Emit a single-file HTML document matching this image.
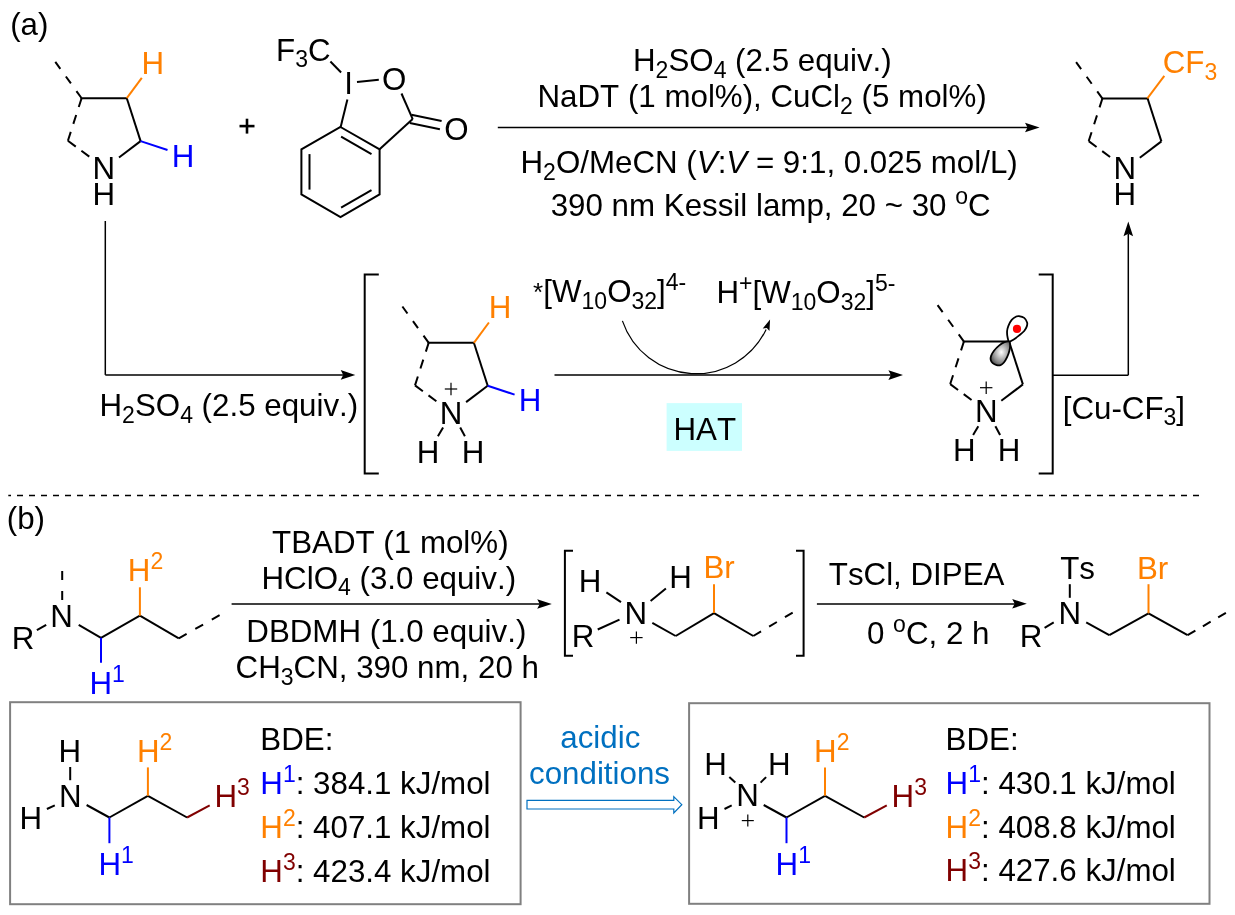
<!DOCTYPE html>
<html><head><meta charset="utf-8"><style>
html,body{margin:0;padding:0;background:#fff;overflow:hidden;}
svg{display:block;will-change:transform;}
text{font-family:"Liberation Sans",sans-serif;font-kerning:none;}
</style></head><body>
<svg width="1235" height="915" viewBox="0 0 1235 915">
<rect width="1235" height="915" fill="#fff"/>
<text x="10.20" y="35.00" text-anchor="start" fill="#000" font-size="31.3" ><tspan>(a)</tspan></text>
<line x1="55.30" y1="61.90" x2="81.60" y2="98.20" stroke="#000" stroke-width="2.0" stroke-dasharray="8.6 9.4" stroke-dashoffset="0"/>
<line x1="81.60" y1="98.20" x2="67.90" y2="140.80" stroke="#000" stroke-width="2.0" stroke-dasharray="9.3 8.4" stroke-dashoffset="0"/>
<line x1="67.90" y1="140.80" x2="89.50" y2="156.80" stroke="#000" stroke-width="2.0" stroke-dasharray="9.8 7.0" stroke-dashoffset="0"/>
<line x1="81.60" y1="98.20" x2="126.80" y2="98.20" stroke="#000" stroke-width="2.0" stroke-linecap="square"/>
<line x1="126.80" y1="98.20" x2="140.60" y2="141.10" stroke="#000" stroke-width="2.0" />
<line x1="140.60" y1="141.10" x2="119.00" y2="157.50" stroke="#000" stroke-width="2.0" />
<text x="103.90" y="179.00" text-anchor="middle" fill="#000" font-size="31.3" ><tspan>N</tspan></text>
<text x="103.90" y="205.00" text-anchor="middle" fill="#000" font-size="31.3" ><tspan>H</tspan></text>
<line x1="126.80" y1="98.20" x2="141.80" y2="77.90" stroke="#FF8000" stroke-width="2.0" />
<text x="152.85" y="73.80" text-anchor="middle" fill="#FF8000" font-size="31.3" ><tspan>H</tspan></text>
<line x1="140.60" y1="141.10" x2="167.50" y2="150.00" stroke="#0000FF" stroke-width="2.0" />
<text x="183.00" y="166.50" text-anchor="middle" fill="#0000FF" font-size="31.3" ><tspan>H</tspan></text>
<line x1="239.50" y1="126.10" x2="254.50" y2="126.10" stroke="#000" stroke-width="2.6" />
<line x1="247.00" y1="118.70" x2="247.00" y2="133.60" stroke="#000" stroke-width="2.6" />
<text x="276.00" y="60.50" text-anchor="start" fill="#000" font-size="31.3" ><tspan>F</tspan><tspan font-size="23.0" dy="6.70">3</tspan><tspan dy="-6.70">C</tspan></text>
<line x1="330.40" y1="61.50" x2="341.10" y2="72.50" stroke="#000" stroke-width="2.0" />
<text x="348.70" y="94.00" text-anchor="middle" fill="#000" font-size="31.3" ><tspan>I</tspan></text>
<line x1="357.00" y1="81.90" x2="378.80" y2="79.80" stroke="#000" stroke-width="2.0" />
<text x="394.10" y="89.60" text-anchor="middle" fill="#000" font-size="31.3" ><tspan>O</tspan></text>
<line x1="401.50" y1="93.50" x2="412.70" y2="119.10" stroke="#000" stroke-width="2.0" />
<line x1="411.40" y1="114.80" x2="441.60" y2="121.10" stroke="#000" stroke-width="2.0" />
<line x1="409.80" y1="123.00" x2="439.90" y2="129.30" stroke="#000" stroke-width="2.0" />
<text x="456.45" y="139.50" text-anchor="middle" fill="#000" font-size="31.3" ><tspan>O</tspan></text>
<line x1="347.40" y1="99.40" x2="340.60" y2="127.30" stroke="#000" stroke-width="2.0" />
<polygon points="340.5,127 379.6,149.3 379.6,194.4 340.5,217.2 301.4,194.4 301.4,149.3" fill="none" stroke="#000" stroke-width="2" stroke-linejoin="miter"/>
<line x1="341.10" y1="136.60" x2="371.50" y2="154.10" stroke="#000" stroke-width="2.0" />
<line x1="309.50" y1="154.10" x2="309.50" y2="189.60" stroke="#000" stroke-width="2.0" />
<line x1="341.10" y1="207.60" x2="371.50" y2="190.20" stroke="#000" stroke-width="2.0" />
<line x1="379.60" y1="149.30" x2="412.70" y2="119.10" stroke="#000" stroke-width="2.0" />
<line x1="497.80" y1="127.50" x2="1028.00" y2="127.50" stroke="#000" stroke-width="1.5" />
<polygon points="1039.60,127.50 1025.00,132.30 1027.50,127.50 1025.00,122.70" fill="#000"/>
<text x="633.00" y="70.90" text-anchor="start" fill="#000" font-size="31.3" ><tspan>H</tspan><tspan font-size="23.0" dy="6.70">2</tspan><tspan dy="-6.70">SO</tspan><tspan font-size="23.0" dy="6.70">4</tspan><tspan dy="-6.70"> (2.5 equiv.)</tspan></text>
<text x="537.50" y="106.80" text-anchor="start" fill="#000" font-size="31.3" ><tspan>NaDT (1 mol%), CuCl</tspan><tspan font-size="23.0" dy="6.70">2</tspan><tspan dy="-6.70"> (5 mol%)</tspan></text>
<text x="520.50" y="173.10" text-anchor="start" fill="#000" font-size="31.3" ><tspan>H</tspan><tspan font-size="23.0" dy="6.70">2</tspan><tspan dy="-6.70">O/MeCN (</tspan><tspan font-style="italic">V</tspan><tspan>:</tspan><tspan font-style="italic">V</tspan><tspan> = 9:1, 0.025 mol/L)</tspan></text>
<text x="550.70" y="216.00" text-anchor="start" fill="#000" font-size="31.3" ><tspan>390 nm Kessil lamp, 20 ~ 30 </tspan><tspan font-size="23.0" dy="-12.00">o</tspan><tspan dy="12.00">C</tspan></text>
<line x1="1076.10" y1="62.20" x2="1102.40" y2="98.50" stroke="#000" stroke-width="2.0" stroke-dasharray="8.6 9.4" stroke-dashoffset="0"/>
<line x1="1102.40" y1="98.50" x2="1088.70" y2="141.10" stroke="#000" stroke-width="2.0" stroke-dasharray="9.3 8.4" stroke-dashoffset="0"/>
<line x1="1088.70" y1="141.10" x2="1110.30" y2="157.10" stroke="#000" stroke-width="2.0" stroke-dasharray="9.8 7.0" stroke-dashoffset="0"/>
<line x1="1102.40" y1="98.50" x2="1147.60" y2="98.50" stroke="#000" stroke-width="2.0" stroke-linecap="square"/>
<line x1="1147.60" y1="98.50" x2="1161.40" y2="141.40" stroke="#000" stroke-width="2.0" />
<line x1="1161.40" y1="141.40" x2="1139.80" y2="157.80" stroke="#000" stroke-width="2.0" />
<text x="1124.70" y="179.30" text-anchor="middle" fill="#000" font-size="31.3" ><tspan>N</tspan></text>
<text x="1124.70" y="205.30" text-anchor="middle" fill="#000" font-size="31.3" ><tspan>H</tspan></text>
<line x1="1147.40" y1="98.40" x2="1164.30" y2="75.90" stroke="#FF8000" stroke-width="2.0" />
<text x="1162.70" y="73.30" text-anchor="start" fill="#FF8000" font-size="31.3" ><tspan>CF</tspan><tspan font-size="23.0" dy="6.70">3</tspan></text>
<line x1="1128.30" y1="375.20" x2="1128.30" y2="234.00" stroke="#000" stroke-width="1.5" />
<polygon points="1128.30,221.60 1133.10,236.20 1128.30,233.70 1123.50,236.20" fill="#000"/>
<line x1="1052.70" y1="375.20" x2="1128.30" y2="375.20" stroke="#000" stroke-width="1.5" />
<line x1="105.30" y1="221.00" x2="105.30" y2="374.90" stroke="#000" stroke-width="1.5" />
<line x1="105.30" y1="374.90" x2="343.00" y2="374.90" stroke="#000" stroke-width="1.5" />
<polygon points="355.30,374.90 340.70,379.70 343.20,374.90 340.70,370.10" fill="#000"/>
<text x="99.50" y="416.20" text-anchor="start" fill="#000" font-size="31.3" ><tspan>H</tspan><tspan font-size="23.0" dy="6.70">2</tspan><tspan dy="-6.70">SO</tspan><tspan font-size="23.0" dy="6.70">4</tspan><tspan dy="-6.70"> (2.5 equiv.)</tspan></text>
<path d="M378.8,274.6 H364.7 V473.6 H378.8" fill="none" stroke="#000" stroke-width="2"/>
<path d="M1038.7,274.6 H1052.7 V473.6 H1038.7" fill="none" stroke="#000" stroke-width="2"/>
<line x1="402.40" y1="306.50" x2="428.70" y2="342.80" stroke="#000" stroke-width="2.0" stroke-dasharray="8.6 9.4" stroke-dashoffset="0"/>
<line x1="428.70" y1="342.80" x2="415.00" y2="385.40" stroke="#000" stroke-width="2.0" stroke-dasharray="9.3 8.4" stroke-dashoffset="0"/>
<line x1="415.00" y1="385.40" x2="436.60" y2="401.40" stroke="#000" stroke-width="2.0" stroke-dasharray="9.8 7.0" stroke-dashoffset="0"/>
<line x1="428.70" y1="342.80" x2="473.90" y2="342.80" stroke="#000" stroke-width="2.0" stroke-linecap="square"/>
<line x1="473.90" y1="342.80" x2="487.70" y2="385.70" stroke="#000" stroke-width="2.0" />
<line x1="487.70" y1="385.70" x2="466.10" y2="402.10" stroke="#000" stroke-width="2.0" />
<text x="451.00" y="423.60" text-anchor="middle" fill="#000" font-size="31.3" ><tspan>N</tspan></text>
<line x1="473.90" y1="342.80" x2="488.90" y2="322.50" stroke="#FF8000" stroke-width="2.0" />
<text x="499.95" y="318.40" text-anchor="middle" fill="#FF8000" font-size="31.3" ><tspan>H</tspan></text>
<line x1="487.70" y1="385.70" x2="514.60" y2="394.60" stroke="#0000FF" stroke-width="2.0" />
<text x="530.10" y="411.10" text-anchor="middle" fill="#0000FF" font-size="31.3" ><tspan>H</tspan></text>
<line x1="444.80" y1="389.00" x2="457.20" y2="389.00" stroke="#000" stroke-width="1.2" />
<line x1="451.00" y1="382.80" x2="451.00" y2="395.20" stroke="#000" stroke-width="1.2" />
<line x1="443.10" y1="427.60" x2="437.90" y2="436.20" stroke="#000" stroke-width="2.0" />
<line x1="460.20" y1="427.60" x2="464.90" y2="436.20" stroke="#000" stroke-width="2.0" />
<text x="428.10" y="462.50" text-anchor="middle" fill="#000" font-size="31.3" ><tspan>H</tspan></text>
<text x="473.10" y="462.50" text-anchor="middle" fill="#000" font-size="31.3" ><tspan>H</tspan></text>
<line x1="554.50" y1="375.10" x2="891.00" y2="375.10" stroke="#000" stroke-width="1.5" />
<polygon points="903.00,375.10 888.40,379.90 890.90,375.10 888.40,370.30" fill="#000"/>
<path d="M622.40,320.91 A77.7,77.7 0 0 0 766.13,329.45" fill="none" stroke="#000" stroke-width="1.2"/>
<polygon points="770.06,319.49 769.45,331.05 766.81,327.89 762.73,328.45" fill="#000"/>
<rect x="666.6" y="403.1" width="75.4" height="47.8" fill="#CCFFFF"/>
<text x="673.50" y="439.60" text-anchor="start" fill="#000" font-size="31.3" ><tspan>HAT</tspan></text>
<text x="532.90" y="300.90" text-anchor="start" fill="#000" font-size="26" ><tspan>*</tspan></text>
<text x="543.30" y="302.40" text-anchor="start" fill="#000" font-size="31.3" ><tspan>[W</tspan><tspan font-size="23.0" dy="6.70">10</tspan><tspan dy="-6.70">O</tspan><tspan font-size="23.0" dy="6.70">32</tspan><tspan dy="-6.70">]</tspan><tspan font-size="23.0" dy="-12.00">4-</tspan></text>
<text x="716.40" y="302.80" text-anchor="start" fill="#000" font-size="31.3" ><tspan>H</tspan><tspan font-size="23.0" dy="-12.00">+</tspan><tspan dy="12.00">[W</tspan><tspan font-size="23.0" dy="6.70">10</tspan><tspan dy="-6.70">O</tspan><tspan font-size="23.0" dy="6.70">32</tspan><tspan dy="-6.70">]</tspan><tspan font-size="23.0" dy="-12.00">5-</tspan></text>
<line x1="937.60" y1="305.20" x2="963.90" y2="341.50" stroke="#000" stroke-width="2.0" stroke-dasharray="8.6 9.4" stroke-dashoffset="0"/>
<line x1="963.90" y1="341.50" x2="950.20" y2="384.10" stroke="#000" stroke-width="2.0" stroke-dasharray="9.3 8.4" stroke-dashoffset="0"/>
<line x1="950.20" y1="384.10" x2="971.80" y2="400.10" stroke="#000" stroke-width="2.0" stroke-dasharray="9.8 7.0" stroke-dashoffset="0"/>
<line x1="963.90" y1="341.50" x2="1009.10" y2="341.50" stroke="#000" stroke-width="2.0" stroke-linecap="square"/>
<line x1="1009.10" y1="341.50" x2="1022.90" y2="384.40" stroke="#000" stroke-width="2.0" />
<line x1="1022.90" y1="384.40" x2="1001.30" y2="400.80" stroke="#000" stroke-width="2.0" />
<text x="986.20" y="422.30" text-anchor="middle" fill="#000" font-size="31.3" ><tspan>N</tspan></text>
<line x1="980.00" y1="387.70" x2="992.40" y2="387.70" stroke="#000" stroke-width="1.2" />
<line x1="986.20" y1="381.50" x2="986.20" y2="393.90" stroke="#000" stroke-width="1.2" />
<line x1="978.30" y1="426.30" x2="973.10" y2="434.90" stroke="#000" stroke-width="2.0" />
<line x1="995.40" y1="426.30" x2="1000.10" y2="434.90" stroke="#000" stroke-width="2.0" />
<text x="964.20" y="461.20" text-anchor="middle" fill="#000" font-size="31.3" ><tspan>H</tspan></text>
<text x="1009.10" y="461.20" text-anchor="middle" fill="#000" font-size="31.3" ><tspan>H</tspan></text>
<defs><radialGradient id="lg" cx="0.55" cy="0.45" r="0.7"><stop offset="0" stop-color="#ffffff"/><stop offset="0.6" stop-color="#909090"/><stop offset="1" stop-color="#303030"/></radialGradient></defs>
<path d="M1009.10,341.50 C1008.07,341.07 1007.83,338.65 1007.50,336.90 C1007.17,335.15 1006.95,332.85 1007.10,331.00 C1007.25,329.15 1007.63,327.65 1008.40,325.80 C1009.17,323.95 1010.38,321.45 1011.70,319.90 C1013.02,318.35 1015.10,317.13 1016.30,316.50 C1017.50,315.87 1017.58,315.87 1018.90,316.10 C1020.22,316.33 1022.83,316.83 1024.20,317.90 C1025.57,318.97 1026.67,321.08 1027.10,322.50 C1027.53,323.92 1027.28,324.98 1026.80,326.40 C1026.32,327.82 1025.52,329.47 1024.20,331.00 C1022.88,332.53 1020.65,334.18 1018.90,335.60 C1017.15,337.02 1015.33,338.52 1013.70,339.50 C1012.07,340.48 1010.13,341.93 1009.10,341.50 Z" fill="#fff" stroke="#000" stroke-width="1.8" stroke-linejoin="round"/>
<path d="M1009.10,341.50 C1008.17,340.97 1006.13,341.55 1004.50,342.20 C1002.87,342.85 1001.05,343.98 999.30,345.40 C997.55,346.82 995.37,348.95 994.00,350.70 C992.63,352.45 991.65,354.37 991.10,355.90 C990.55,357.43 990.43,358.70 990.70,359.90 C990.97,361.10 991.72,362.23 992.70,363.10 C993.68,363.97 995.28,364.77 996.60,365.10 C997.92,365.43 999.38,365.53 1000.60,365.10 C1001.82,364.67 1002.82,363.82 1003.90,362.50 C1004.98,361.18 1006.18,359.17 1007.10,357.20 C1008.02,355.23 1008.90,352.67 1009.40,350.70 C1009.90,348.73 1010.15,346.93 1010.10,345.40 C1010.05,343.87 1010.03,342.03 1009.10,341.50 Z" fill="url(#lg)" stroke="#000" stroke-width="1.8" stroke-linejoin="round"/>
<circle cx="1017.0" cy="328.9" r="4.1" fill="#FF0000"/>
<text x="1062.70" y="418.60" text-anchor="start" fill="#000" font-size="31.3" ><tspan>[Cu-CF</tspan><tspan font-size="23.0" dy="6.70">3</tspan><tspan dy="-6.70">]</tspan></text>
<line x1="8.30" y1="495.40" x2="1199.00" y2="495.40" stroke="#000" stroke-width="1.5" stroke-dasharray="6 6" stroke-dashoffset="3.3"/>
<text x="6.80" y="528.50" text-anchor="start" fill="#000" font-size="31.3" ><tspan>(b)</tspan></text>
<text x="23.00" y="649.20" text-anchor="middle" fill="#000" font-size="31.3" ><tspan>R</tspan></text>
<line x1="36.90" y1="630.10" x2="46.20" y2="624.80" stroke="#000" stroke-width="2.0" />
<text x="61.60" y="626.60" text-anchor="middle" fill="#000" font-size="31.3" ><tspan>N</tspan></text>
<line x1="62.20" y1="571.00" x2="62.20" y2="601.00" stroke="#000" stroke-width="2.0" stroke-dasharray="9 11" stroke-dashoffset="0"/>
<line x1="78.70" y1="624.80" x2="101.00" y2="637.80" stroke="#000" stroke-width="2.0" />
<line x1="101.00" y1="637.80" x2="139.90" y2="615.70" stroke="#000" stroke-width="2.0" />
<line x1="139.90" y1="615.70" x2="178.80" y2="638.40" stroke="#000" stroke-width="2.0" />
<line x1="178.80" y1="638.40" x2="219.60" y2="615.10" stroke="#000" stroke-width="2.0" stroke-dasharray="9 10" stroke-dashoffset="0"/>
<line x1="101.00" y1="637.80" x2="101.00" y2="662.70" stroke="#0000FF" stroke-width="2.0" />
<line x1="139.90" y1="615.70" x2="139.90" y2="587.30" stroke="#FF8000" stroke-width="2.0" />
<text x="127.80" y="581.30" text-anchor="start" fill="#FF8000" font-size="31.3" ><tspan>H</tspan><tspan font-size="23.0" dy="-12.00">2</tspan></text>
<text x="89.50" y="693.60" text-anchor="start" fill="#0000FF" font-size="31.3" ><tspan>H</tspan><tspan font-size="23.0" dy="-12.00">1</tspan></text>
<line x1="231.60" y1="604.00" x2="540.00" y2="604.00" stroke="#000" stroke-width="1.5" />
<polygon points="551.80,604.00 537.20,608.80 539.70,604.00 537.20,599.20" fill="#000"/>
<text x="272.10" y="553.40" text-anchor="start" fill="#000" font-size="31.3" ><tspan>TBADT (1 mol%)</tspan></text>
<text x="261.50" y="588.60" text-anchor="start" fill="#000" font-size="31.3" ><tspan>HClO</tspan><tspan font-size="23.0" dy="6.70">4</tspan><tspan dy="-6.70"> (3.0 equiv.)</tspan></text>
<text x="246.30" y="641.50" text-anchor="start" fill="#000" font-size="31.3" ><tspan>DBDMH (1.0 equiv.)</tspan></text>
<text x="235.60" y="678.10" text-anchor="start" fill="#000" font-size="31.3" ><tspan>CH</tspan><tspan font-size="23.0" dy="6.70">3</tspan><tspan dy="-6.70">CN, 390 nm, 20 h</tspan></text>
<path d="M573,550.8 H564.9 V655.7 H573" fill="none" stroke="#000" stroke-width="2"/>
<path d="M796,550.8 H803.6 V655.7 H796" fill="none" stroke="#000" stroke-width="2"/>
<text x="590.10" y="592.10" text-anchor="middle" fill="#000" font-size="31.3" ><tspan>H</tspan></text>
<text x="680.60" y="587.70" text-anchor="middle" fill="#000" font-size="31.3" ><tspan>H</tspan></text>
<text x="635.80" y="623.80" text-anchor="middle" fill="#000" font-size="31.3" ><tspan>N</tspan></text>
<text x="583.10" y="646.80" text-anchor="middle" fill="#000" font-size="31.3" ><tspan>R</tspan></text>
<line x1="606.40" y1="592.30" x2="621.00" y2="602.10" stroke="#000" stroke-width="2.0" />
<line x1="650.60" y1="601.10" x2="665.90" y2="588.60" stroke="#000" stroke-width="2.0" />
<line x1="597.70" y1="629.50" x2="619.50" y2="619.60" stroke="#000" stroke-width="2.0" />
<line x1="652.30" y1="622.90" x2="675.70" y2="636.00" stroke="#000" stroke-width="2.0" />
<line x1="675.70" y1="636.00" x2="714.00" y2="613.10" stroke="#000" stroke-width="2.0" />
<line x1="714.00" y1="613.10" x2="753.30" y2="636.00" stroke="#000" stroke-width="2.0" />
<line x1="753.30" y1="636.00" x2="792.70" y2="612.60" stroke="#000" stroke-width="2.0" stroke-dasharray="9 9.4" stroke-dashoffset="0"/>
<line x1="714.00" y1="613.10" x2="714.00" y2="584.20" stroke="#FF8000" stroke-width="2.0" />
<text x="703.50" y="578.30" text-anchor="start" fill="#FF8000" font-size="31.3" ><tspan>Br</tspan></text>
<line x1="630.20" y1="637.60" x2="642.60" y2="637.60" stroke="#000" stroke-width="1.2" />
<line x1="636.40" y1="631.40" x2="636.40" y2="643.80" stroke="#000" stroke-width="1.2" />
<line x1="816.90" y1="604.00" x2="1015.00" y2="604.00" stroke="#000" stroke-width="1.5" />
<polygon points="1026.80,603.80 1012.20,608.60 1014.70,603.80 1012.20,599.00" fill="#000"/>
<text x="828.80" y="585.30" text-anchor="start" fill="#000" font-size="31.3" ><tspan>TsCl, DIPEA</tspan></text>
<text x="867.00" y="644.30" text-anchor="start" fill="#000" font-size="31.3" ><tspan>0 </tspan><tspan font-size="23.0" dy="-12.00">o</tspan><tspan dy="12.00">C, 2 h</tspan></text>
<text x="1031.00" y="646.50" text-anchor="middle" fill="#000" font-size="31.3" ><tspan>R</tspan></text>
<line x1="1044.60" y1="627.90" x2="1053.70" y2="622.40" stroke="#000" stroke-width="2.0" />
<text x="1069.70" y="623.50" text-anchor="middle" fill="#000" font-size="31.3" ><tspan>N</tspan></text>
<line x1="1069.80" y1="584.20" x2="1069.80" y2="597.80" stroke="#000" stroke-width="2.0" />
<text x="1060.20" y="578.50" text-anchor="start" fill="#000" font-size="31.3" ><tspan>Ts</tspan></text>
<line x1="1086.20" y1="622.40" x2="1109.30" y2="635.20" stroke="#000" stroke-width="2.0" />
<line x1="1109.30" y1="635.20" x2="1148.50" y2="613.30" stroke="#000" stroke-width="2.0" />
<line x1="1148.50" y1="613.30" x2="1187.60" y2="635.20" stroke="#000" stroke-width="2.0" />
<line x1="1187.60" y1="635.20" x2="1225.90" y2="612.80" stroke="#000" stroke-width="2.0" stroke-dasharray="9 8.7" stroke-dashoffset="0"/>
<line x1="1148.50" y1="613.30" x2="1148.50" y2="584.20" stroke="#FF8000" stroke-width="2.0" />
<text x="1137.00" y="578.50" text-anchor="start" fill="#FF8000" font-size="31.3" ><tspan>Br</tspan></text>
<rect x="10.1" y="702.2" width="510.5" height="202" fill="none" stroke="#808080" stroke-width="2"/>
<rect x="689.1" y="703.2" width="520.4" height="200.6" fill="none" stroke="#808080" stroke-width="2"/>
<text x="69.70" y="761.50" text-anchor="middle" fill="#000" font-size="31.3" ><tspan>H</tspan></text>
<line x1="70.20" y1="767.00" x2="70.20" y2="780.20" stroke="#000" stroke-width="2.0" />
<text x="70.30" y="806.90" text-anchor="middle" fill="#000" font-size="31.3" ><tspan>N</tspan></text>
<text x="30.90" y="829.30" text-anchor="middle" fill="#000" font-size="31.3" ><tspan>H</tspan></text>
<line x1="46.90" y1="809.00" x2="54.80" y2="805.40" stroke="#000" stroke-width="2.0" />
<line x1="86.60" y1="805.00" x2="109.40" y2="817.50" stroke="#000" stroke-width="2.0" />
<line x1="109.40" y1="817.50" x2="147.90" y2="795.80" stroke="#000" stroke-width="2.0" />
<line x1="147.90" y1="795.80" x2="187.10" y2="817.50" stroke="#000" stroke-width="2.0" />
<line x1="187.10" y1="817.50" x2="209.70" y2="805.40" stroke="#800000" stroke-width="2.0" />
<line x1="109.40" y1="817.50" x2="109.40" y2="843.20" stroke="#0000FF" stroke-width="2.0" />
<line x1="147.90" y1="795.80" x2="147.90" y2="767.40" stroke="#FF8000" stroke-width="2.0" />
<text x="137.00" y="761.50" text-anchor="start" fill="#FF8000" font-size="31.3" ><tspan>H</tspan><tspan font-size="23.0" dy="-12.00">2</tspan></text>
<text x="214.50" y="806.90" text-anchor="start" fill="#800000" font-size="31.3" ><tspan>H</tspan><tspan font-size="23.0" dy="-12.00">3</tspan></text>
<text x="98.50" y="874.50" text-anchor="start" fill="#0000FF" font-size="31.3" ><tspan>H</tspan><tspan font-size="23.0" dy="-12.00">1</tspan></text>
<text x="260.30" y="750.30" text-anchor="start" fill="#000" font-size="31.3" ><tspan>BDE:</tspan></text>
<text x="260.30" y="794.20" text-anchor="start" fill="#000" font-size="31.3" ><tspan fill="#0000FF">H</tspan><tspan font-size="23.0" dy="-12.00" fill="#0000FF">1</tspan><tspan dy="12.00">: 384.1 kJ/mol</tspan></text>
<text x="260.30" y="838.30" text-anchor="start" fill="#000" font-size="31.3" ><tspan fill="#FF8000">H</tspan><tspan font-size="23.0" dy="-12.00" fill="#FF8000">2</tspan><tspan dy="12.00">: 407.1 kJ/mol</tspan></text>
<text x="260.30" y="881.80" text-anchor="start" fill="#000" font-size="31.3" ><tspan fill="#800000">H</tspan><tspan font-size="23.0" dy="-12.00" fill="#800000">3</tspan><tspan dy="12.00">: 423.4 kJ/mol</tspan></text>
<line x1="763.70" y1="805.00" x2="786.50" y2="817.50" stroke="#000" stroke-width="2.0" />
<line x1="786.50" y1="817.50" x2="825.00" y2="795.80" stroke="#000" stroke-width="2.0" />
<line x1="825.00" y1="795.80" x2="864.20" y2="817.50" stroke="#000" stroke-width="2.0" />
<line x1="864.20" y1="817.50" x2="886.80" y2="805.40" stroke="#800000" stroke-width="2.0" />
<line x1="786.50" y1="817.50" x2="786.50" y2="843.20" stroke="#0000FF" stroke-width="2.0" />
<line x1="825.00" y1="795.80" x2="825.00" y2="767.40" stroke="#FF8000" stroke-width="2.0" />
<text x="814.10" y="761.50" text-anchor="start" fill="#FF8000" font-size="31.3" ><tspan>H</tspan><tspan font-size="23.0" dy="-12.00">2</tspan></text>
<text x="891.60" y="806.90" text-anchor="start" fill="#800000" font-size="31.3" ><tspan>H</tspan><tspan font-size="23.0" dy="-12.00">3</tspan></text>
<text x="775.60" y="874.50" text-anchor="start" fill="#0000FF" font-size="31.3" ><tspan>H</tspan><tspan font-size="23.0" dy="-12.00">1</tspan></text>
<text x="715.50" y="774.50" text-anchor="middle" fill="#000" font-size="31.3" ><tspan>H</tspan></text>
<text x="779.20" y="774.50" text-anchor="middle" fill="#000" font-size="31.3" ><tspan>H</tspan></text>
<text x="747.45" y="806.40" text-anchor="middle" fill="#000" font-size="31.3" ><tspan>N</tspan></text>
<text x="708.20" y="829.30" text-anchor="middle" fill="#000" font-size="31.3" ><tspan>H</tspan></text>
<line x1="729.30" y1="777.10" x2="735.30" y2="782.60" stroke="#000" stroke-width="2.0" />
<line x1="760.60" y1="782.60" x2="766.10" y2="777.10" stroke="#000" stroke-width="2.0" />
<line x1="724.50" y1="809.00" x2="731.70" y2="805.40" stroke="#000" stroke-width="2.0" />
<line x1="741.80" y1="820.60" x2="753.80" y2="820.60" stroke="#000" stroke-width="1.2" />
<line x1="747.80" y1="814.60" x2="747.80" y2="826.60" stroke="#000" stroke-width="1.2" />
<text x="945.60" y="749.50" text-anchor="start" fill="#000" font-size="31.3" ><tspan>BDE:</tspan></text>
<text x="945.60" y="794.20" text-anchor="start" fill="#000" font-size="31.3" ><tspan fill="#0000FF">H</tspan><tspan font-size="23.0" dy="-12.00" fill="#0000FF">1</tspan><tspan dy="12.00">: 430.1 kJ/mol</tspan></text>
<text x="945.60" y="837.50" text-anchor="start" fill="#000" font-size="31.3" ><tspan fill="#FF8000">H</tspan><tspan font-size="23.0" dy="-12.00" fill="#FF8000">2</tspan><tspan dy="12.00">: 408.8 kJ/mol</tspan></text>
<text x="945.60" y="881.40" text-anchor="start" fill="#000" font-size="31.3" ><tspan fill="#800000">H</tspan><tspan font-size="23.0" dy="-12.00" fill="#800000">3</tspan><tspan dy="12.00">: 427.6 kJ/mol</tspan></text>
<text x="600.30" y="747.70" text-anchor="middle" fill="#0070C0" font-size="31.3" ><tspan>acidic</tspan></text>
<text x="599.50" y="783.70" text-anchor="middle" fill="#0070C0" font-size="31.3" ><tspan>conditions</tspan></text>
<path d="M527,800.3 H673.8 V796.7 L681.8,804.7 L673.8,813 V809 H527 Z" fill="#fff" stroke="#0070C0" stroke-width="1.2"/>
</svg></body></html>
